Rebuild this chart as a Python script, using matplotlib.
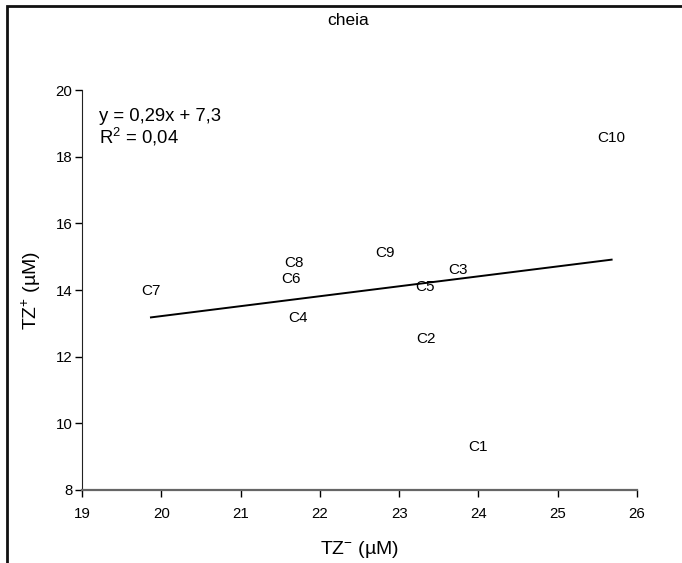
import matplotlib
matplotlib.use("Agg")
import matplotlib.pyplot as plt
import numpy as np
from matplotlib.patches import Rectangle

plt.rcParams["font.family"] = ["Liberation Sans", "DejaVu Sans"]
plt.rcParams["mathtext.default"] = "regular"

# sampling points (TZ- vs TZ+, in µM)
labels = ["C1", "C2", "C3", "C4", "C5", "C6", "C7", "C8", "C9", "C10"]
tz_minus = [23.99, 23.34, 23.74, 21.73, 23.33, 21.63, 19.87, 21.68, 22.82, 25.68]
tz_plus = [9.29, 12.53, 14.59, 13.16, 14.10, 14.34, 13.98, 14.82, 15.10, 18.56]

x_ticks = [19, 20, 21, 22, 23, 24, 25, 26]
y_ticks = [8, 10, 12, 14, 16, 18, 20]

fig = plt.figure(figsize=(6.82, 5.63), dpi=100)
ax = fig.add_axes([0.1202, 0.1297, 0.8138, 0.7103])

x = np.array(tz_minus)
y = np.array(tz_plus)
slope, intercept = np.polyfit(x, y, 1)
xs = np.array([x.min(), x.max()])
ax.plot(xs, slope * xs + intercept, color="black", linewidth=1.4)

for lab, xi, yi in zip(labels, tz_minus, tz_plus):
    ax.text(xi, yi, lab, ha="center", va="center", fontsize=11)

ax.set_xlim(19, 26)
ax.set_ylim(8, 20)
ax.set_xticks(x_ticks)
ax.set_yticks(y_ticks)
ax.tick_params(direction="out", length=5, width=1, labelsize=10.8)
ax.tick_params(axis="x", pad=7)
ax.tick_params(axis="y", pad=2)
for side in ("top", "right"):
    ax.spines[side].set_visible(False)
ax.spines["left"].set_color("#222222")
ax.spines["bottom"].set_color("#666666")
ax.spines["bottom"].set_linewidth(1.6)

ax.set_xlabel("TZ$^{-}$ (µM)", fontsize=14, labelpad=13)
ax.set_ylabel("TZ$^{+}$ (µM)", fontsize=14, labelpad=9)

ax.text(0.03, 0.955, "y = 0,29x + 7,3\nR$^{2}$ = 0,04", transform=ax.transAxes,
        ha="left", va="top", fontsize=13.3, linespacing=1.05)

fig.text(0.51, 0.963, "cheia", ha="center", va="center", fontsize=12.5)

frame = Rectangle((0.0103, -0.2), 1.5, 1.1893, transform=fig.transFigure,
                  fill=False, edgecolor="#111111", linewidth=2)
fig.patches.append(frame)

fig.savefig("out.png", dpi=100)
